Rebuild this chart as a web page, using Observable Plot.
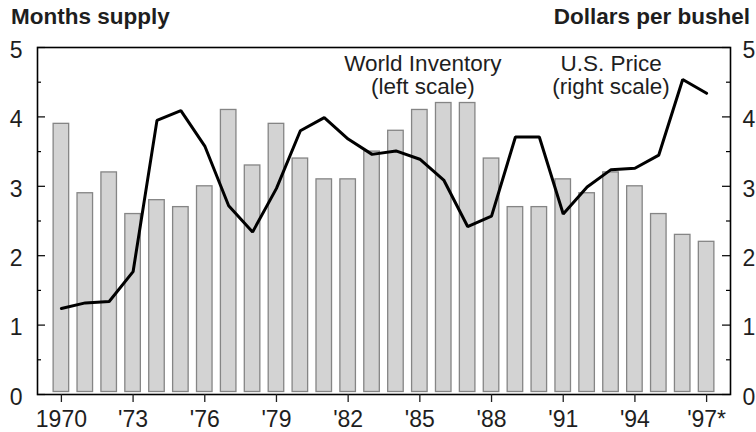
<!DOCTYPE html>
<html>
<head>
<meta charset="utf-8">
<script src="https://cdn.jsdelivr.net/npm/d3@7"></script>
<script src="https://cdn.jsdelivr.net/npm/@observablehq/plot@0.6"></script>
<style>
  body { margin: 0; background: #fff; }
  #wrap { position: relative; width: 756px; height: 432px; font-family: "Liberation Sans", Arial, sans-serif; color: #222; }
  #wrap svg { position: absolute; left: 0; top: 0; }
  .title { position: absolute; top: 6px; font-size: 22.5px; line-height: 22px; font-weight: bold; white-space: nowrap; z-index: 2; color: #1e1e1e; }
  #tl { left: 11px; }
  #tr { right: 6px; }
</style>
</head>
<body>
<div id="wrap">
  <div class="title" id="tl">Months supply</div>
  <div class="title" id="tr">Dollars per bushel</div>
</div>
<script>
const years = [1970,1971,1972,1973,1974,1975,1976,1977,1978,1979,1980,1981,1982,1983,
               1984,1985,1986,1987,1988,1989,1990,1991,1992,1993,1994,1995,1996,1997];
// World inventory, months supply (left scale)
const inventory = [3.9,2.9,3.2,2.6,2.8,2.7,3.0,4.1,3.3,3.9,3.4,3.1,3.1,3.5,
                   3.8,4.1,4.2,4.2,3.4,2.7,2.7,3.1,2.9,3.2,3.0,2.6,2.3,2.2];
// U.S. price, dollars per bushel (right scale)
const price = [1.24,1.32,1.34,1.77,3.95,4.09,3.58,2.72,2.34,2.97,3.80,3.99,3.68,3.46,
               3.51,3.39,3.09,2.42,2.57,3.71,3.71,2.60,2.99,3.24,3.26,3.45,4.54,4.34];
const xTicks = [1970,1973,1976,1979,1982,1985,1988,1991,1994,1997];
const xTickLabels = ["1970","'73","'76","'79","'82","'85","'88","'91","'94","'97*"];
const yTicks = [0,1,2,3,4,5];
const yHalfTicks = [0.5,1.5,2.5,3.5,4.5];

const invData = years.map((y, i) => ({year: y, value: inventory[i]}));
const priceData = years.map((y, i) => ({year: y, value: price[i]}));
const labelOf = new Map(xTicks.map((t, i) => [t, xTickLabels[i]]));

const W = 756, H = 432, mL = 37, mR = 26, mT = 47, mB = 38;
const frameW = W - mL - mR;
const textStyle = {fontSize: 22.5, fill: "#1e1e1e", lineAnchor: "top", lineHeight: 1.0, text: d => d};

const chart = Plot.plot({
  width: W, height: H,
  marginTop: mT, marginBottom: mB, marginLeft: mL, marginRight: mR,
  style: {fontFamily: "'Liberation Sans', Arial, sans-serif", fontSize: "23px", color: "#1e1e1e", background: "transparent", overflow: "visible"},
  x: {type: "band", domain: years, paddingInner: 0.35, paddingOuter: 0.675, align: 0.5, round: false},
  y: {domain: [0, 5]},
  marks: [
    Plot.barY(invData, {x: "year", y: "value", insetBottom: 2.5, fill: "#d3d3d3", stroke: "#858585", strokeWidth: 1.3}),
    Plot.line(priceData, {x: "year", y: "value", stroke: "#000", strokeWidth: 3, strokeLinejoin: "miter"}),
    Plot.frame({stroke: "#000", strokeWidth: 1.6}),
    Plot.tickY(yTicks, {y: d => d, insetRight: frameW - 8, stroke: "#000", strokeWidth: 1.2}),
    Plot.tickY(yHalfTicks, {y: d => d, insetRight: frameW - 4, stroke: "#000", strokeWidth: 1.2}),
    Plot.tickY(yTicks, {y: d => d, insetLeft: frameW - 8, stroke: "#000", strokeWidth: 1.2}),
    Plot.tickY(yHalfTicks, {y: d => d, insetLeft: frameW - 4, stroke: "#000", strokeWidth: 1.2}),
    Plot.axisX(xTicks, {anchor: "bottom", tickSize: 8, tickPadding: 8, tickFormat: d => labelOf.get(d), label: null, strokeWidth: 1.3}),
    Plot.axisY(yTicks, {anchor: "left", tickSize: 0, tickPadding: 15, tickFormat: d => String(d), label: null, dy: 3}),
    Plot.axisY(yTicks, {anchor: "right", tickSize: 0, tickPadding: 12, tickFormat: d => String(d), label: null, dy: 3}),
    Plot.text(["World Inventory\n(left scale)"], {...textStyle, x: () => 1985, y: () => 4.89, dx: 3, letterSpacing: 0.6}),
    Plot.text(["U.S. Price\n(right scale)"], {...textStyle, x: () => 1993, y: () => 4.89, dx: 0, letterSpacing: 0.6})
  ]
});
document.getElementById("wrap").appendChild(chart);
</script>
</body>
</html>
